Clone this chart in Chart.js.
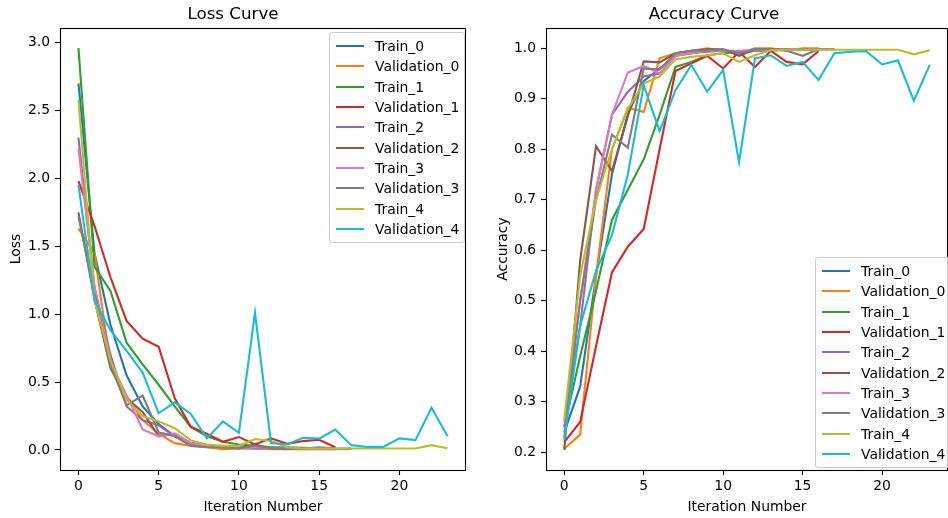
<!DOCTYPE html>
<html>
<head>
<meta charset="utf-8">
<script src="https://cdn.jsdelivr.net/npm/chart.js@4.4.0/dist/chart.umd.min.js"></script>
<style>
body { margin: 0; width: 948px; height: 518px; background: #fff; position: relative; overflow: hidden; font-family: 'DejaVu Sans', sans-serif; }
.box { position: absolute; top: 0; height: 518px; }
#lossBox { left: 0; width: 480px; }
#accBox { left: 480px; width: 468px; }
.legend { position: absolute; background: rgba(255,255,255,0.8); border: 1px solid #ccc; border-radius: 3px; padding: 3px 5px 3px 6px; font-size: 13.9px; color: #000; }
.legend .row { height: 20.3px; display: flex; align-items: center; white-space: nowrap; }
.legend .h { display: inline-block; width: 28px; height: 2px; margin-right: 11px; }
#lossLegend { left: 329px; top: 32px; }
#accLegend { left: 815px; bottom: 50px; }
</style>
</head>
<body>
<div class="box" id="lossBox"><canvas id="lossChart"></canvas></div>
<div class="box" id="accBox"><canvas id="accChart"></canvas></div>
<div class="legend" id="lossLegend"></div>
<div class="legend" id="accLegend"></div>
<script>
let seriesNames = ['Train_0', 'Validation_0', 'Train_1', 'Validation_1', 'Train_2',
                   'Validation_2', 'Train_3', 'Validation_3', 'Train_4', 'Validation_4'];
let colors = ['#1f77b4', '#ff7f0e', '#2ca02c', '#d62728', '#9467bd',
              '#8c564b', '#e377c2', '#7f7f7f', '#bcbd22', '#17becf'];

// loss values per fold
let lossTrain0 = [2.70, 1.45, 0.92, 0.55, 0.32, 0.19, 0.10, 0.05, 0.03, 0.02, 0.02, 0.015, 0.01, 0.01, 0.01, 0.01, 0.01];
let lossVal0 = [1.63, 1.45, 0.62, 0.40, 0.22, 0.12, 0.05, 0.03, 0.02, 0.005, 0.01, 0.01, 0.005, 0.005, 0.005, 0.005, 0.005];
let lossTrain1 = [2.96, 1.35, 1.17, 0.79, 0.63, 0.48, 0.32, 0.17, 0.10, 0.06, 0.04, 0.03, 0.02, 0.02, 0.015, 0.01, 0.01];
let lossVal1 = [1.98, 1.65, 1.27, 0.95, 0.82, 0.76, 0.38, 0.17, 0.12, 0.06, 0.095, 0.04, 0.085, 0.045, 0.065, 0.075, 0.02];
let lossTrain2 = [2.30, 1.20, 0.70, 0.32, 0.22, 0.18, 0.10, 0.04, 0.03, 0.02, 0.015, 0.01, 0.01, 0.01, 0.01, 0.01, 0.01];
let lossVal2 = [1.75, 1.11, 0.60, 0.38, 0.28, 0.10, 0.12, 0.05, 0.03, 0.02, 0.01, 0.04, 0.01, 0.01, 0.01, 0.01, 0.01];
let lossTrain3 = [2.22, 1.20, 0.65, 0.40, 0.15, 0.10, 0.12, 0.05, 0.03, 0.02, 0.01, 0.02, 0.01, 0.01, 0.005, 0.005, 0.005, 0.005];
let lossVal3 = [1.72, 1.15, 0.62, 0.33, 0.40, 0.13, 0.10, 0.03, 0.02, 0.02, 0.01, 0.03, 0.01, 0.005, 0.01, 0.02, 0.01, 0.01];
let lossTrain4 = [2.58, 1.10, 0.66, 0.37, 0.25, 0.21, 0.16, 0.07, 0.04, 0.03, 0.03, 0.08, 0.066, 0.02, 0.01, 0.01, 0.01, 0.01, 0.01, 0.01, 0.01, 0.01, 0.035, 0.012];
let lossVal4 = [1.95, 1.10, 0.88, 0.73, 0.57, 0.27, 0.35, 0.265, 0.085, 0.21, 0.125, 1.01, 0.05, 0.04, 0.09, 0.083, 0.15, 0.035, 0.022, 0.022, 0.085, 0.072, 0.31, 0.10];

// accuracy values per fold
let accTrain0 = [0.24, 0.33, 0.55, 0.75, 0.87, 0.935, 0.96, 0.985, 0.99, 0.995, 0.995, 0.99, 0.995, 0.998, 0.998, 0.998, 0.998];
let accVal0 = [0.207, 0.235, 0.55, 0.80, 0.882, 0.874, 0.98, 0.99, 0.995, 1.0, 0.995, 0.99, 1.0, 1.0, 0.995, 1.0, 1.0];
let accTrain1 = [0.25, 0.39, 0.52, 0.66, 0.72, 0.78, 0.868, 0.963, 0.973, 0.986, 0.99, 0.993, 0.995, 0.995, 0.997, 0.997, 0.998];
let accVal1 = [0.22, 0.26, 0.41, 0.556, 0.607, 0.642, 0.80, 0.955, 0.97, 0.985, 0.96, 0.993, 0.963, 0.995, 0.973, 0.968, 0.994];
let accTrain2 = [0.25, 0.45, 0.72, 0.868, 0.914, 0.944, 0.95, 0.985, 0.99, 0.993, 0.995, 0.99, 0.995, 0.997, 0.997, 0.998, 0.998];
let accVal2 = [0.205, 0.58, 0.806, 0.757, 0.865, 0.974, 0.972, 0.99, 0.995, 0.998, 0.998, 0.985, 0.998, 0.998, 0.998, 0.998, 0.998];
let accTrain3 = [0.26, 0.50, 0.72, 0.868, 0.952, 0.965, 0.95, 0.985, 0.99, 0.995, 0.995, 0.995, 0.997, 0.997, 0.998, 0.998, 0.998, 0.998];
let accVal3 = [0.23, 0.50, 0.70, 0.829, 0.803, 0.96, 0.958, 0.99, 0.995, 0.995, 0.998, 0.99, 0.998, 0.998, 0.995, 0.985, 0.998, 0.998];
let accTrain4 = [0.265, 0.55, 0.70, 0.80, 0.88, 0.93, 0.944, 0.978, 0.983, 0.986, 0.99, 0.973, 0.986, 0.996, 0.997, 0.997, 0.997, 0.997, 0.997, 0.997, 0.997, 0.997, 0.988, 0.996];
let accVal4 = [0.225, 0.45, 0.56, 0.63, 0.75, 0.927, 0.836, 0.917, 0.967, 0.914, 0.957, 0.774, 0.98, 0.986, 0.965, 0.973, 0.937, 0.99, 0.993, 0.994, 0.968, 0.976, 0.896, 0.967];

let xTicks = [0, 5, 10, 15, 20];
let lossTicks = [0.0, 0.5, 1.0, 1.5, 2.0, 2.5, 3.0];
let accTicks = [0.2, 0.3, 0.4, 0.5, 0.6, 0.7, 0.8, 0.9, 1.0];

let lossSeries = [lossTrain0, lossVal0, lossTrain1, lossVal1, lossTrain2, lossVal2, lossTrain3, lossVal3, lossTrain4, lossVal4];
let accSeries = [accTrain0, accVal0, accTrain1, accVal1, accTrain2, accVal2, accTrain3, accVal3, accTrain4, accVal4];

Chart.defaults.font.family = "'DejaVu Sans'";
Chart.defaults.font.size = 13.9;
Chart.defaults.color = '#000';

// matplotlib style box round the plot area
let framePlugin = {
    id: 'frame',
    afterDatasetsDraw(chart) {
        let a = chart.chartArea;
        let ctx = chart.ctx;
        ctx.save();
        ctx.strokeStyle = '#000';
        ctx.lineWidth = 1.1;
        ctx.strokeRect(Math.round(a.left) + 0.5, Math.round(a.top) + 0.5,
                       Math.round(a.right - a.left) - 1, Math.round(a.bottom - a.top));
        ctx.restore();
    }
};

function makeChart(canvasId, title, yLabel, series, yMin, yMax, yTicks, yAxisWidth, padRight, yTitlePad)
{
    let datasets = [];
    for (let i = 0; i < series.length; i++)
    {
        datasets.push({
            label: seriesNames[i],
            data: series[i].map((v, j) => ({x: j, y: v})),
            borderColor: colors[i],
            backgroundColor: colors[i],
            borderWidth: 2.1,
            pointRadius: 0,
            tension: 0,
            order: series.length - i
        });
    }
    return new Chart(document.getElementById(canvasId), {
        type: 'line',
        data: { datasets: datasets },
        plugins: [framePlugin],
        options: {
            responsive: true,
            maintainAspectRatio: false,
            animation: false,
            layout: { padding: { left: 0, right: padRight, top: 0, bottom: 0 } },
            plugins: {
                legend: { display: false },
                tooltip: { enabled: false },
                title: {
                    display: true,
                    text: title,
                    color: '#000',
                    font: { size: 16.7, weight: 'normal' },
                    padding: { top: 5, bottom: 3 }
                }
            },
            scales: {
                x: {
                    type: 'linear',
                    min: -1.15,
                    max: 24.15,
                    afterBuildTicks: s => { s.ticks = xTicks.map(v => ({value: v})); },
                    afterFit: s => { s.height = 48; },
                    ticks: { padding: 3, maxRotation: 0, callback: v => v },
                    grid: { drawOnChartArea: false, color: '#000', tickLength: 5, tickWidth: 1.1 },
                    border: { display: false },
                    title: { display: true, text: 'Iteration Number', padding: { top: 0, bottom: 2 } }
                },
                y: {
                    min: yMin,
                    max: yMax,
                    afterBuildTicks: s => { s.ticks = yTicks.map(v => ({value: v})); },
                    afterFit: s => { s.width = yAxisWidth; },
                    ticks: { padding: 5, callback: v => v.toFixed(1) },
                    grid: { drawOnChartArea: false, color: '#000', tickLength: 5, tickWidth: 1.1 },
                    border: { display: false },
                    title: { display: true, text: yLabel, padding: { top: yTitlePad, bottom: 0 } }
                }
            }
        }
    });
}

function makeLegend(elId)
{
    let el = document.getElementById(elId);
    for (let i = 0; i < seriesNames.length; i++)
    {
        let row = document.createElement('div');
        row.className = 'row';
        let h = document.createElement('span');
        h.className = 'h';
        h.style.background = colors[i];
        row.appendChild(h);
        row.appendChild(document.createTextNode(seriesNames[i]));
        el.appendChild(row);
    }
}

makeChart('lossChart', 'Loss Curve', 'Loss', lossSeries, -0.148, 3.108, lossTicks, 60, 14, 7.7);
makeChart('accChart', 'Accuracy Curve', 'Accuracy', accSeries, 0.165, 1.04, accTicks, 66, 0, 14.7);
makeLegend('lossLegend');
makeLegend('accLegend');
</script>
</body>
</html>
